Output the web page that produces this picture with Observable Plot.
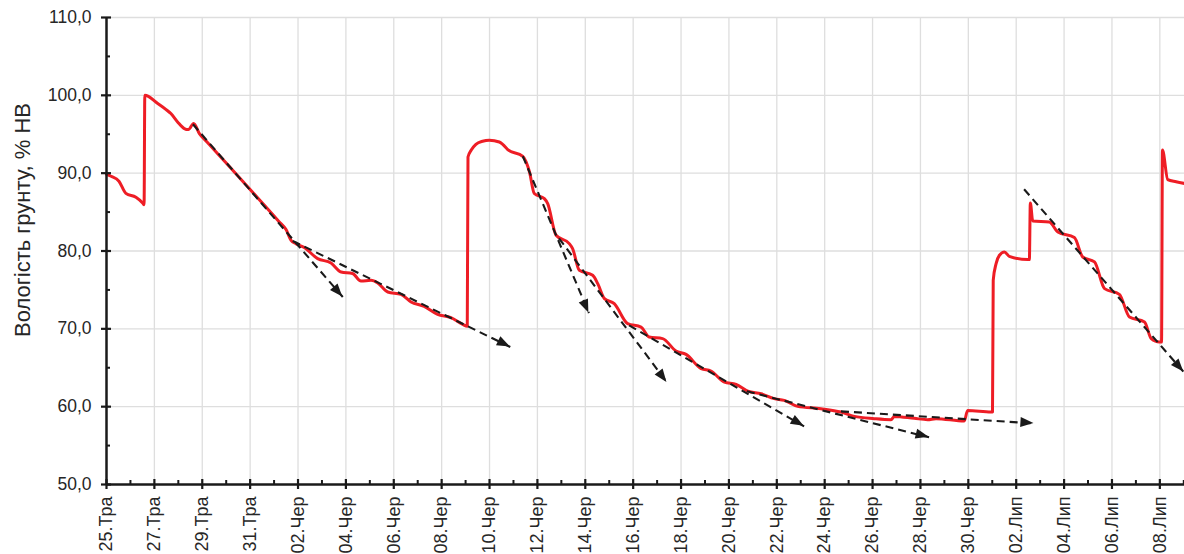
<!DOCTYPE html>
<html><head><meta charset="utf-8">
<script src="https://cdn.jsdelivr.net/npm/d3@7"></script>
<script src="https://cdn.jsdelivr.net/npm/@observablehq/plot@0.6"></script>
<style>body{margin:0;background:#fff;overflow:hidden}</style>
</head><body><div id="chart"></div>
<script>
const startDate = Date.UTC(2021, 4, 25);
const DAY = 864e5;
const dayOffset = [0, 0.19, 0.52, 0.81, 1.23, 1.52, 1.57, 1.60, 2.14, 2.49, 2.69, 2.97, 3.25, 3.42, 3.64, 3.88, 4.20, 5.00, 6.00, 7.20, 7.50, 7.71, 7.91, 8.26, 8.82, 9.38, 9.80, 10.28, 10.63, 11.05, 11.33, 11.75, 12.30, 12.72, 13.27, 13.83, 14.39, 14.88, 15.07, 15.10, 15.23, 15.43, 15.71, 15.99, 16.41, 16.55, 16.76, 17.39, 17.67, 17.87, 18.29, 18.43, 18.78, 19.33, 19.47, 19.75, 20.31, 20.52, 20.80, 21.21, 21.77, 22.33, 22.67, 23.23, 23.79, 24.21, 24.84, 25.25, 25.81, 26.30, 26.79, 27.34, 27.89, 28.31, 28.87, 29.84, 30.68, 31.24, 32.07, 32.77, 32.91, 33.74, 34.30, 34.65, 35.83, 35.97, 36.95, 37.01, 37.04, 37.16, 37.30, 37.51, 37.71, 38.48, 38.55, 38.59, 38.69, 39.38, 39.74, 40.43, 40.78, 41.27, 41.69, 42.31, 42.73, 43.36, 43.64, 43.98, 44.07, 44.11, 44.33, 44.68, 45.06];
const moisture = [89.86, 89.6, 88.97, 87.4, 86.9, 86.13, 85.95, 100.0, 98.95, 98.17, 97.66, 96.58, 95.73, 95.6, 96.38, 95.09, 94.0, 91.3, 87.9, 83.8, 82.75, 81.37, 80.95, 80.44, 79.02, 78.46, 77.30, 77.10, 76.14, 76.23, 75.89, 74.73, 74.43, 73.45, 72.89, 71.86, 71.44, 70.58, 70.32, 92.08, 92.94, 93.7, 94.1, 94.23, 94.01, 93.7, 93.03, 92.17, 90.15, 87.38, 86.73, 86.09, 82.02, 80.95, 80.31, 77.52, 76.88, 75.81, 73.88, 73.24, 70.67, 70.23, 68.95, 68.74, 67.15, 66.72, 64.88, 64.58, 63.16, 62.87, 62.0, 61.67, 61.03, 60.81, 60.04, 59.74, 59.31, 58.75, 58.46, 58.33, 58.75, 58.5, 58.33, 58.46, 58.15, 59.52, 59.31, 59.31, 76.24, 78.38, 79.45, 79.87, 79.32, 78.9, 78.9, 86.17, 83.86, 83.73, 82.44, 81.72, 79.23, 78.59, 75.17, 74.43, 71.52, 70.88, 68.74, 68.3, 68.3, 92.97, 89.18, 88.9, 88.66];
const trendFromDay = [3.61, 7.78, 17.39, 18.90, 21.83, 26.75, 30.68, 38.33];
const trendFromVal = [96.29, 81.29, 92.17, 81.63, 70.45, 61.97, 59.40, 87.93];
const trendToDay = [9.87, 16.87, 20.15, 23.41, 29.14, 34.36, 38.74, 45.0];
const trendToVal = [74.09, 67.66, 72.03, 63.12, 57.47, 56.06, 57.85, 64.45];
const monthNames = ["Січ","Лют","Бер","Кві","Тра","Чер","Лип","Сер","Вер","Жов","Лис","Гру"];
const majorTickDays = [0,2,4,6,8,10,12,14,16,18,20,22,24,26,28,30,32,34,36,38,40,42,44];
const minorTickDays = [1,3,5,7,9,11,13,15,17,19,21,23,25,27,29,31,33,35,37,39,41,43,45];
const yTicks = [50,60,70,80,90,100,110];
const yMinor = [55,65,75,85,95,105];
const yTitle = "Вологість грунту, % НВ";

const toDate = d => new Date(startDate + d * DAY);
const series = dayOffset.map((d, i) => ({date: toDate(d), v: moisture[i]}));
const trends = trendFromDay.map((d, i) => ({x1: toDate(d), y1: trendFromVal[i], x2: toDate(trendToDay[i]), y2: trendToVal[i]}));
const majorDates = majorTickDays.map(toDate);
const minorDates = minorTickDays.map(toDate);
const d0 = toDate(0);
const fmtDate = d => String(d.getUTCDate()).padStart(2, "0") + "." + monthNames[d.getUTCMonth()];
const fmtY = v => v.toFixed(1).replace(".", ",");
const axisColor = "#1a1a1a";

const plot = Plot.plot({
  width: 1184, height: 554,
  marginLeft: 106, marginRight: 0, marginTop: 17, marginBottom: 70,
  style: {fontFamily: "'Liberation Sans', Arial, sans-serif", fontSize: "17px", color: "#262626", background: "#fff"},
  x: {type: "utc", domain: [d0, toDate(45.03)]},
  y: {domain: [50, 110]},
  marks: [
    Plot.ruleX(majorDates.slice(1), {stroke: "#dedede", strokeWidth: 1.3}),
    Plot.ruleY(yTicks.slice(1), {stroke: "#dedede", strokeWidth: 1.3}),
    Plot.line(series, {x: "date", y: "v", stroke: "#ee1d25", strokeWidth: 3, strokeLinejoin: "round", curve: "monotone-x"}),
    Plot.link(trends, {x1: "x1", y1: "y1", x2: "x2", y2: "y2", stroke: axisColor, strokeWidth: 2.1, strokeDasharray: "8,5"}),
    Plot.ruleX([d0], {stroke: axisColor, strokeWidth: 2.5}),
    Plot.ruleY([50], {stroke: axisColor, strokeWidth: 2.5}),
    Plot.ruleX(majorDates, {y1: 50, y2: 50, insetTop: -5, insetBottom: -5, stroke: axisColor, strokeWidth: 2.2}),
    Plot.ruleX(minorDates, {y1: 50, y2: 50, insetTop: -4, stroke: axisColor, strokeWidth: 2}),
    Plot.ruleY(yTicks, {x1: d0, x2: d0, insetLeft: -5, insetRight: -5, stroke: axisColor, strokeWidth: 2.2}),
    Plot.ruleY(yMinor, {x1: d0, x2: d0, insetRight: -4, stroke: axisColor, strokeWidth: 2}),
    Plot.axisX(majorDates, {tickSize: 0, tickPadding: 12, tickRotate: -90, tickFormat: fmtDate, fontSize: 18, label: null}),
    Plot.axisY(yTicks, {tickSize: 0, tickPadding: 15, tickFormat: fmtY, fontSize: 17.5, label: null}),
    Plot.text([yTitle], {frameAnchor: "left", textAnchor: "middle", rotate: -90, dx: -84, dy: -31, fontSize: 22, fill: "#262626"})
  ]
});

// filled arrowheads placed through the plot's own scales
const sx = plot.scale("x"), sy = plot.scale("y");
const svg = d3.select(plot);
trends.forEach(t => {
  const ax = sx.apply(t.x1), ay = sy.apply(t.y1);
  const bx = sx.apply(t.x2), by = sy.apply(t.y2);
  const len = Math.hypot(bx - ax, by - ay);
  const ux = (bx - ax) / len, uy = (by - ay) / len;
  const L = 13, W = 5;
  const cx = bx - ux * L, cy = by - uy * L;
  svg.append("path")
    .attr("d", `M${bx},${by}L${cx - uy * W},${cy + ux * W}L${cx + uy * W},${cy - ux * W}Z`)
    .attr("fill", axisColor);
});
document.getElementById("chart").appendChild(plot);
</script>
</body></html>
